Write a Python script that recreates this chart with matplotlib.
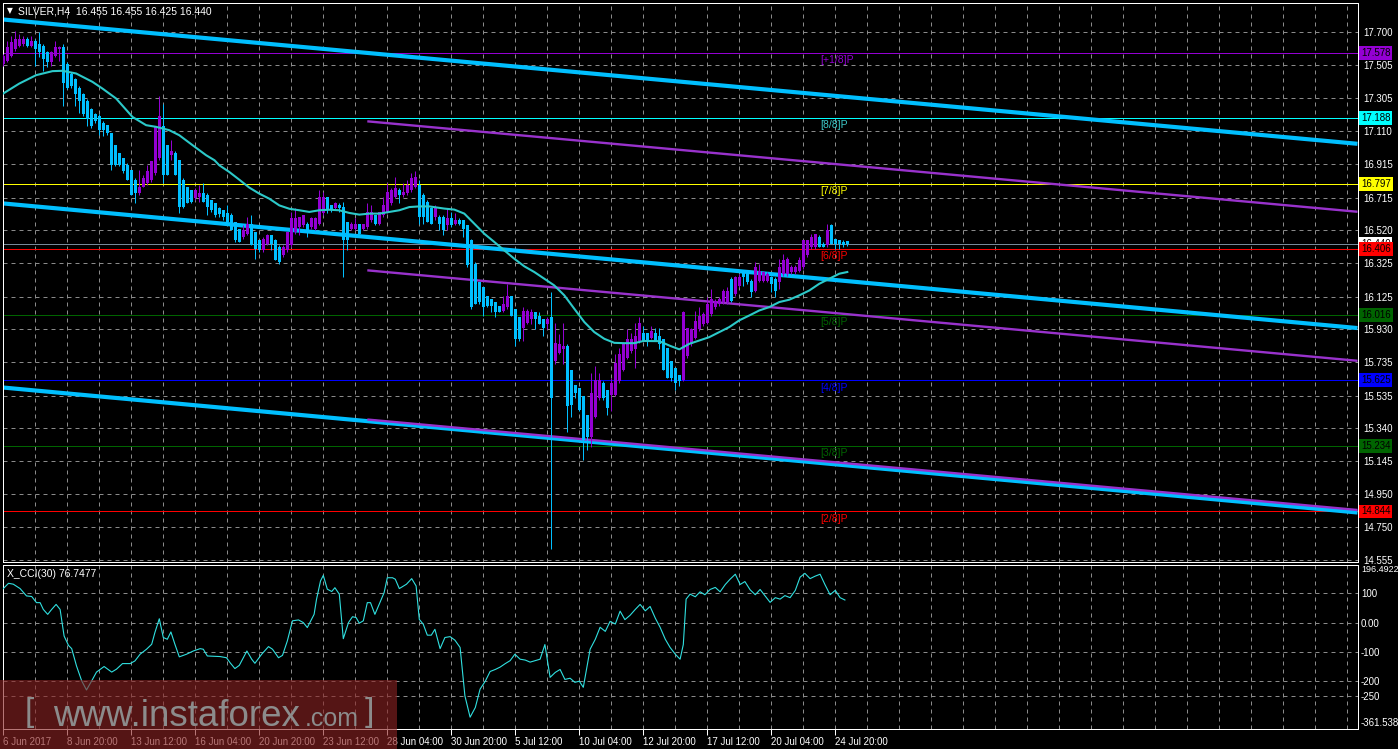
import matplotlib
matplotlib.use('Agg')
import matplotlib.pyplot as plt
import matplotlib.transforms as mtransforms
from matplotlib.patches import Rectangle

# ============================================================
# DATOS (SILVER H4, velas desde 6 Jun 2017 04:00)
# ============================================================
aperturas = [
    17.51, 17.53, 17.56, 17.60, 17.62, 17.63, 17.66, 17.62, 17.65, 17.63,
    17.62, 17.58, 17.52, 17.56, 17.60, 17.61, 17.51, 17.45, 17.42, 17.37,
    17.33, 17.29, 17.24, 17.21, 17.20, 17.16, 17.15, 17.10, 17.03, 16.98,
    16.95, 16.91, 16.88, 16.82, 16.74, 16.78, 16.80, 16.82, 16.86, 16.95,
    17.14, 17.03, 16.97, 16.98, 16.94, 16.82, 16.78, 16.76, 16.71, 16.72,
    16.74, 16.73, 16.70, 16.68, 16.65, 16.64, 16.62, 16.61, 16.57, 16.53,
    16.48, 16.50, 16.56, 16.51, 16.46, 16.40, 16.44, 16.49, 16.46, 16.42,
    16.37, 16.40, 16.43, 16.51, 16.54, 16.55, 16.56, 16.54, 16.53, 16.56,
    16.62, 16.72, 16.67, 16.65, 16.67, 16.66, 16.57, 16.53, 16.53, 16.56,
    16.53, 16.54, 16.58, 16.61, 16.56, 16.61, 16.63, 16.68, 16.72, 16.76,
    16.73, 16.74, 16.76, 16.78, 16.79, 16.73, 16.69, 16.65, 16.60, 16.60,
    16.60, 16.55, 16.59, 16.56, 16.58, 16.58, 16.55, 16.46, 16.32, 16.21,
    16.18, 16.13, 16.11, 16.09, 16.07, 16.04, 16.06, 16.13, 16.05, 16.00,
    15.94, 15.97, 15.99, 16.03, 16.01, 15.99, 15.96, 16.00, 15.74, 15.79,
    15.81, 15.83, 15.69, 15.60, 15.58, 15.53, 15.42, 15.29, 15.41, 15.52,
    15.61, 15.57, 15.54, 15.54, 15.62, 15.69, 15.76, 15.80, 15.81, 15.86,
    15.91, 15.91, 15.88, 15.91, 15.89, 15.87, 15.82, 15.74, 15.70, 15.66,
    15.63, 15.77, 15.84, 15.88, 15.93, 15.96, 15.97, 16.02, 16.06, 16.08,
    16.09, 16.09, 16.23, 16.14, 16.19, 16.27, 16.27, 16.22, 16.16, 16.22,
    16.22, 16.22, 16.24, 16.23, 16.21, 16.26, 16.26, 16.27, 16.27, 16.28,
    16.30, 16.37, 16.42, 16.42, 16.48, 16.44, 16.43, 16.55, 16.47, 16.46,
    16.45, 16.455,
]
maximos = [
    17.57, 17.65, 17.68, 17.71, 17.69, 17.68, 17.67, 17.68, 17.66, 17.70,
    17.63, 17.59, 17.59, 17.65, 17.62, 17.63, 17.52, 17.46, 17.43, 17.38,
    17.34, 17.30, 17.25, 17.22, 17.21, 17.17, 17.15, 17.10, 17.03, 16.98,
    16.95, 16.92, 16.88, 16.83, 16.88, 16.85, 16.91, 16.93, 17.14, 17.32,
    17.27, 17.03, 17.06, 16.99, 16.94, 16.83, 16.78, 16.76, 16.77, 16.79,
    16.80, 16.74, 16.70, 16.68, 16.66, 16.64, 16.67, 16.62, 16.57, 16.53,
    16.55, 16.60, 16.61, 16.51, 16.46, 16.48, 16.50, 16.49, 16.47, 16.43,
    16.43, 16.51, 16.63, 16.65, 16.60, 16.61, 16.57, 16.60, 16.60, 16.76,
    16.75, 16.72, 16.67, 16.69, 16.68, 16.69, 16.57, 16.57, 16.59, 16.56,
    16.56, 16.68, 16.67, 16.61, 16.63, 16.72, 16.80, 16.77, 16.84, 16.77,
    16.80, 16.82, 16.86, 16.87, 16.82, 16.74, 16.70, 16.66, 16.67, 16.61,
    16.61, 16.65, 16.63, 16.62, 16.59, 16.58, 16.55, 16.47, 16.33, 16.21,
    16.18, 16.13, 16.11, 16.09, 16.07, 16.13, 16.20, 16.13, 16.05, 16.00,
    16.06, 16.05, 16.05, 16.03, 16.03, 15.99, 16.00, 16.15, 15.97, 15.90,
    15.97, 15.84, 15.69, 15.60, 15.58, 15.53, 15.42, 15.67, 15.71, 15.67,
    15.62, 15.57, 15.64, 15.78, 15.82, 15.85, 15.93, 15.91, 15.97, 16.00,
    15.95, 15.91, 15.95, 15.94, 15.94, 15.87, 15.82, 15.74, 15.70, 15.66,
    16.04, 15.94, 15.94, 16.04, 16.06, 16.03, 16.12, 16.17, 16.11, 16.12,
    16.17, 16.18, 16.24, 16.25, 16.26, 16.28, 16.27, 16.23, 16.33, 16.32,
    16.28, 16.27, 16.25, 16.24, 16.35, 16.38, 16.36, 16.31, 16.31, 16.36,
    16.46, 16.46, 16.50, 16.50, 16.49, 16.45, 16.56, 16.56, 16.47, 16.46,
    16.46, 16.455,
]
minimos = [
    17.50, 17.52, 17.55, 17.59, 17.61, 17.62, 17.61, 17.61, 17.50, 17.55,
    17.47, 17.49, 17.50, 17.55, 17.53, 17.26, 17.36, 17.37, 17.26, 17.22,
    17.20, 17.14, 17.13, 17.16, 17.09, 17.08, 17.09, 16.88, 16.90, 16.90,
    16.86, 16.82, 16.73, 16.68, 16.73, 16.78, 16.79, 16.81, 16.85, 16.94,
    16.80, 16.85, 16.94, 16.85, 16.62, 16.65, 16.68, 16.68, 16.70, 16.69,
    16.69, 16.61, 16.63, 16.60, 16.60, 16.58, 16.57, 16.52, 16.45, 16.45,
    16.47, 16.49, 16.43, 16.35, 16.39, 16.39, 16.43, 16.40, 16.34, 16.32,
    16.36, 16.39, 16.42, 16.50, 16.49, 16.54, 16.48, 16.53, 16.52, 16.55,
    16.61, 16.62, 16.63, 16.64, 16.63, 16.24, 16.40, 16.52, 16.52, 16.50,
    16.52, 16.53, 16.57, 16.55, 16.55, 16.60, 16.62, 16.67, 16.71, 16.68,
    16.72, 16.73, 16.75, 16.77, 16.56, 16.56, 16.57, 16.56, 16.58, 16.52,
    16.49, 16.52, 16.54, 16.55, 16.55, 16.48, 16.30, 16.05, 16.08, 16.08,
    16.01, 16.06, 16.03, 16.00, 16.03, 16.03, 16.05, 16.01, 15.83, 15.86,
    15.86, 15.96, 15.96, 15.93, 15.96, 15.89, 15.93, 14.62, 15.72, 15.78,
    15.72, 15.32, 15.41, 15.52, 15.44, 15.15, 15.21, 15.23, 15.40, 15.51,
    15.51, 15.42, 15.44, 15.53, 15.61, 15.68, 15.75, 15.79, 15.70, 15.85,
    15.86, 15.83, 15.87, 15.86, 15.81, 15.69, 15.64, 15.62, 15.57, 15.59,
    15.62, 15.76, 15.83, 15.87, 15.92, 15.95, 15.96, 16.01, 16.05, 16.07,
    16.08, 16.08, 16.09, 16.13, 16.18, 16.19, 16.20, 16.12, 16.15, 16.21,
    16.21, 16.21, 16.15, 16.12, 16.17, 16.25, 16.25, 16.26, 16.26, 16.27,
    16.29, 16.36, 16.41, 16.41, 16.42, 16.42, 16.42, 16.44, 16.41, 16.41,
    16.42, 16.425,
]
cierres = [
    17.56, 17.61, 17.64, 17.66, 17.66, 17.66, 17.62, 17.65, 17.60, 17.58,
    17.54, 17.52, 17.58, 17.61, 17.61, 17.40, 17.37, 17.38, 17.33, 17.29,
    17.21, 17.18, 17.14, 17.17, 17.12, 17.12, 17.10, 16.91, 16.91, 16.91,
    16.87, 16.82, 16.73, 16.74, 16.78, 16.83, 16.87, 16.93, 17.14, 17.20,
    16.85, 16.85, 16.99, 16.85, 16.66, 16.66, 16.68, 16.69, 16.76, 16.74,
    16.69, 16.66, 16.64, 16.61, 16.615, 16.60, 16.57, 16.52, 16.46, 16.45,
    16.52, 16.56, 16.43, 16.41, 16.40, 16.47, 16.49, 16.44, 16.34, 16.33,
    16.42, 16.51, 16.59, 16.59, 16.60, 16.61, 16.51, 16.59, 16.59, 16.72,
    16.72, 16.64, 16.64, 16.68, 16.65, 16.46, 16.46, 16.56, 16.56, 16.50,
    16.56, 16.63, 16.63, 16.56, 16.63, 16.67, 16.75, 16.76, 16.77, 16.73,
    16.75, 16.79, 16.83, 16.84, 16.60, 16.60, 16.57, 16.56, 16.65, 16.56,
    16.52, 16.59, 16.55, 16.58, 16.56, 16.53, 16.31, 16.06, 16.08, 16.09,
    16.06, 16.07, 16.07, 16.03, 16.03, 16.08, 16.13, 16.01, 15.87, 15.87,
    16.04, 16.04, 16.03, 15.99, 15.96, 15.94, 15.99, 15.52, 15.85, 15.84,
    15.83, 15.47, 15.48, 15.55, 15.45, 15.27, 15.29, 15.55, 15.63, 15.63,
    15.52, 15.46, 15.61, 15.73, 15.78, 15.84, 15.87, 15.87, 15.89, 15.97,
    15.86, 15.86, 15.92, 15.86, 15.84, 15.69, 15.64, 15.64, 15.61, 15.62,
    16.03, 15.94, 15.93, 15.98, 16.01, 16.02, 16.08, 16.11, 16.10, 16.11,
    16.16, 16.16, 16.10, 16.24, 16.24, 16.24, 16.21, 16.15, 16.30, 16.28,
    16.27, 16.26, 16.20, 16.16, 16.30, 16.34, 16.35, 16.30, 16.30, 16.34,
    16.46, 16.46, 16.48, 16.50, 16.42, 16.42, 16.52, 16.44, 16.44, 16.44,
    16.43, 16.44,
]

# media movil
ma_barras = [0, 4, 8.2, 12.3, 14.8, 18.2, 22.3, 24.8, 28.2, 32.3, 35.7, 38.2,
             41.5, 44, 47.3, 50.7, 52.8, 54, 56.5, 59, 61.5, 64, 66.5, 69,
             71.5, 74, 76.5, 79, 81.5, 84, 86.5, 89, 91.5, 94, 96.5, 99,
             101.5, 104, 106.5, 110.25, 112.75, 115.25, 117.75, 120.25,
             122.75, 125.25, 127.75, 130.25, 132.75, 135.25, 137.75, 140.25,
             142.75, 145.25, 147.75, 150.25, 152.75, 155.25, 157.75, 160,
             164, 166.5, 169, 171.5, 174, 176.5, 179, 181.5, 184, 186.5, 189,
             191.5, 194, 196.5, 199, 201.5, 204, 206.5, 209, 211]
ma_valores = [17.335, 17.394, 17.444, 17.468, 17.470, 17.454, 17.404, 17.364,
              17.305, 17.195, 17.146, 17.136, 17.116, 17.086, 17.027, 16.967,
              16.937, 16.907, 16.867, 16.821, 16.774, 16.738, 16.708, 16.668,
              16.648, 16.639, 16.629, 16.639, 16.642, 16.639, 16.623, 16.613,
              16.619, 16.619, 16.629, 16.639, 16.658, 16.662, 16.662, 16.649,
              16.643, 16.619, 16.559, 16.499, 16.450, 16.400, 16.350, 16.305,
              16.271, 16.231, 16.191, 16.132, 16.052, 15.973, 15.913, 15.873,
              15.849, 15.847, 15.847, 15.860, 15.859, 15.833, 15.810, 15.843,
              15.863, 15.883, 15.913, 15.943, 15.983, 16.012, 16.042, 16.062,
              16.092, 16.106, 16.132, 16.161, 16.201, 16.231, 16.261, 16.271]

# X_CCI(30)
cci_barras = [0, 1.3, 2.5, 4.2, 5.8, 7.1, 8.3, 9.2, 10, 11.1, 12.1, 13.2, 14.2,
              15.2, 16.3, 17.1, 18.3, 19.6, 20.8, 22.1, 23.3, 25.2, 27.1, 28.3,
              29.8, 31.7, 32.9, 34.2, 35.8, 37.1, 37.9, 39, 40, 41, 41.9, 42.9,
              44, 45.8, 47.5, 49.2, 50, 51, 54.2, 55.8, 56.7, 57.9, 59, 60.9,
              62.1, 62.9, 64.6, 66.3, 67.3, 68.8, 69.8, 71, 72.3, 73.8, 75, 76,
              77.7, 78.3, 79.3, 80, 81, 82.1, 82.9, 84, 85, 86.3, 87.3, 88.2,
              89, 90, 91, 91.8, 92.9, 94.2, 95.2, 96, 97.3, 98, 99, 100.8,
              102.1, 103.2, 104, 105, 106, 107, 107.9, 109.2, 110.4, 111.7,
              112.9, 114.2, 115.4, 116.7, 118, 119.2, 120.5, 121.7, 123, 124.2,
              125.5, 126.7, 127.9, 129.2, 130.5, 131.7, 133, 134.2, 135.4,
              136.7, 138, 139.2, 140.4, 141.7, 142.9, 144, 145, 146.7, 148,
              149.2, 150.5, 151.7, 153, 154.2, 155.4, 156.7, 158, 159.2, 160.5,
              161.7, 163, 164.2, 165.5, 166.7, 168, 169.2, 170, 170.7, 171.7,
              173, 174.2, 175.4, 176.7, 178, 179.2, 180.5, 181.7, 183, 184.2,
              185.4, 186.7, 188, 189.2, 190.5, 191.7, 193, 194.2, 195.4, 196.7,
              198, 199.2, 200.4, 201.7, 202.9, 204.2, 205.4, 206.7, 208, 209.2,
              210.4]
cci_valores = [116, 134, 131, 116, 91, 89, 68, 68, 45, 28, 45, 62, 45,
               -46, -78, -89, -148, -199, -230, -199, -169, -150, -169, -159,
               -140, -140, -131, -108, -91, -74, -34, 13, -51, -57, -32, -74,
               -117, -108, -97, -89, -91, -114, -116, -120, -137, -157, -146, -97,
               -125, -139, -108, -82, -91, -120, -112, -63, 6, 9, 0, -17,
               28, 79, 142, 161, 114, 106, 119, 97, -55, 0, 20, 17,
               -2, 6, 68, 68, 28, 70, 102, 153, 153, 148, 116, 131,
               150, 125, 11, -6, -43, -43, -23, -89, -51, -48,
               -60, -85, -250, -323, -290, -227, -200, -167, -160, -152,
               -140, -130, -108, -125, -128, -135, -130, -125, -75,
               -187, -170, -160, -194, -190, -204, -200, -221, -91, -57,
               -16, -30, 4, -5, 39, 10, 25, 45, 62, 40,
               55, 15, -16, -57, -85, -108, -125, -75, 80, 97,
               88, 105, 95, 113, 120, 105, 130, 148, 165, 130,
               140, 112, 95, 113, 90, 69, 85, 80, 92, 85,
               110, 155, 168, 150, 158, 165, 130, 95, 110, 85,
               77]

# niveles Murrey Math
niveles = [17.578, 17.188, 16.797, 16.406, 16.016, 15.625, 15.234, 14.844]
niveles_txt = ['[+1/8]P', '[8/8]P', '[7/8]P', '[6/8]P', '[5/8]P', '[4/8]P', '[3/8]P', '[2/8]P']
niveles_color = ['#9400D3', '#00FFFF', '#FFFF00', '#FF0000', '#006400', '#0000FF', '#006400', '#FF0000']
niveles_txt_color = ['#9400D3', '#3CC8C8', '#FFFF00', '#FF0000', '#006400', '#0000FF', '#006400', '#FF0000']
precio_actual = 16.440

# canales (barra inicial, barra final, precios)
canal_azul_ini = [17.776, 16.680, 15.583]
canal_azul_fin = [17.035, 15.937, 14.838]
canal_lila_ini = [17.169, 16.281, 15.392]
canal_lila_fin = [16.630, 15.742, 14.853]

precio_ticks = [17.700, 17.505, 17.305, 17.110, 16.915, 16.715, 16.520, 16.325,
                16.125, 15.930, 15.735, 15.535, 15.340, 15.145, 14.950, 14.750, 14.555]
cci_ticks = [196.4922, 100, 0, -100, -200, -250, -361.538]
cci_ticks_txt = ['196.4922', '100', '0.00', '-100', '-200', '-250', '-361.538']
cci_grid = [100, 0, -100, -200, -250]

fecha_barras = [0, 16, 32, 48, 64, 80, 96, 112, 128, 144, 160, 176, 192, 208]
fecha_txt = ['6 Jun 2017', '8 Jun 20:00', '13 Jun 12:00', '16 Jun 04:00', '20 Jun 20:00',
             '23 Jun 12:00', '28 Jun 04:00', '30 Jun 20:00', '5 Jul 12:00', '10 Jul 04:00',
             '12 Jul 20:00', '17 Jul 12:00', '20 Jul 04:00', '24 Jul 20:00']

# ============================================================
# FIGURA
# ============================================================
W, H = 1398, 749
fig = plt.figure(figsize=(W / 100, H / 100), dpi=100, facecolor='black')
ax = fig.add_axes([2.5 / W, 1 - 561.5 / H, 1355 / W, 559 / H])
ax_cci = fig.add_axes([2.5 / W, 1 - 728.5 / H, 1355 / W, 163.5 / H])

X_MIN, X_MAX = -0.2, 338.55
gris = '#8a8a8a'
px = 0.72  # 1 pixel en puntos
fuente = 'Liberation Sans'

for a in (ax, ax_cci):
    a.set_facecolor('black')
    a.set_xlim(X_MIN, X_MAX)
    for s in a.spines.values():
        s.set_color('white')
        s.set_linewidth(px)
    for b in range(8, 339, 8):
        a.axvline(b, color=gris, lw=px, ls=(0, (4, 4)), zorder=0)

ax.set_ylim(14.546, 17.877)
ax_cci.set_ylim(-361.538, 196.4922)

for p in precio_ticks:
    ax.axhline(p, color=gris, lw=px, ls=(0, (4, 4)), zorder=0)
for c in cci_grid:
    ax_cci.axhline(c, color=gris, lw=px, ls=(0, (4, 4)), zorder=0)

# niveles horizontales
ax.axhline(precio_actual, color='#778899', lw=px, zorder=1)
for lv, col in zip(niveles, niveles_color):
    ax.axhline(lv, color=col, lw=px, zorder=1)

# canales
ax.plot([X_MIN, X_MAX], [canal_azul_ini, canal_azul_fin], color='#00BFFF',
        lw=3.0, solid_capstyle='butt', zorder=2)
ax.plot([91, X_MAX], [canal_lila_ini, canal_lila_fin], color='#9932CC',
        lw=1.7, solid_capstyle='butt', zorder=2.5)

# velas
for i, (o, h, l, c) in enumerate(zip(aperturas, maximos, minimos, cierres)):
    col = '#9400D3' if c >= o else '#00BFFF'
    ax.vlines(i, l, h, color=col, lw=px, zorder=3)
    alto = max(abs(c - o), 0.007)
    ax.bar(i, alto, bottom=min(o, c), width=0.72, color=col, linewidth=0, zorder=3)

# media movil
ax.plot(ma_barras, ma_valores, color='#2CC9C9', lw=1.5, zorder=4)

# textos Murrey
for lv, txt, col in zip(niveles, niveles_txt, niveles_txt_color):
    ax.annotate(txt, xy=(204.2, lv), xytext=(0, -1.5), textcoords='offset points',
                ha='left', va='top', fontsize=7.5, family=fuente,
                color=col, zorder=5)

# eje de precios a la derecha
ax.yaxis.tick_right()
ax.set_yticks(precio_ticks)
ax.set_yticklabels(['%.3f' % p for p in precio_ticks], family=fuente)
ax.tick_params(axis='y', colors='white', labelsize=7, length=0, pad=4.5)
ax.tick_params(axis='x', bottom=False, labelbottom=False)

trans = mtransforms.blended_transform_factory(ax.transAxes, ax.transData)
ax.text(1.0025, precio_actual, '16.440', transform=trans, ha='left', va='center',
        fontsize=7, family=fuente, color='black', clip_on=False, zorder=6,
        bbox=dict(boxstyle='square,pad=0.2', fc='white', ec='none'))
for lv, col in zip(niveles, niveles_color):
    ax.text(1.0025, lv, '%.3f' % lv, transform=trans, ha='left', va='center',
            fontsize=7, family=fuente, color='black', clip_on=False, zorder=7,
            bbox=dict(boxstyle='square,pad=0.2', fc=col, ec='none'))

# ============================================================
# PANEL CCI
# ============================================================
ax_cci.plot(cci_barras, cci_valores, color='#30E0E0', lw=0.8, zorder=3)
ax_cci.yaxis.tick_right()
ax_cci.set_yticks(cci_ticks)
ax_cci.set_yticklabels(cci_ticks_txt, family=fuente)
ax_cci.tick_params(axis='y', colors='white', labelsize=7, length=0, pad=2.5)
etiquetas = ax_cci.get_yticklabels()
etiquetas[0].set_va('top')
etiquetas[0].set_fontsize(6.5)
etiquetas[-1].set_va('bottom')

ax_cci.set_xticks(fecha_barras)
ax_cci.set_xticklabels(fecha_txt, family=fuente)
ax_cci.tick_params(axis='x', colors='white', labelsize=7, length=4, width=px,
                   direction='out', pad=2)
for t in ax_cci.get_xticklabels():
    t.set_ha('left')

# ============================================================
# TEXTOS
# ============================================================
fig.text(7 / W, 1 - 11 / H, '\u25bc', fontsize=5.5, color='white', va='center')
fig.text(18 / W, 1 - 11 / H, 'SILVER,H4  16.455 16.455 16.425 16.440',
         fontsize=7.5, family=fuente, color='white', va='center')
fig.text(7 / W, 1 - 574 / H, 'X_CCI(30) 76.7477', fontsize=7.5, family=fuente,
         color='white', va='center')

# marca de agua
fig.patches.append(Rectangle((0, 0), 397 / W, 69 / H, transform=fig.transFigure,
                             facecolor='#8B2323', alpha=0.62, edgecolor='none', zorder=10))
fig.text(25 / W, 1 - 721 / H, '[', fontsize=24, family=fuente,
         color='#8c8c8c', va='baseline', zorder=11)
fig.text(53 / W, 1 - 726 / H, 'www.instaforex', fontsize=26.5, family=fuente,
         color='#8c8c8c', va='baseline', zorder=11)
fig.text(305 / W, 1 - 726 / H, '.com', fontsize=18, family=fuente,
         color='#8c8c8c', va='baseline', zorder=11)
fig.text(365 / W, 1 - 721 / H, ']', fontsize=24, family=fuente,
         color='#8c8c8c', va='baseline', zorder=11)

fig.savefig('out.png', dpi=100, facecolor='black')
